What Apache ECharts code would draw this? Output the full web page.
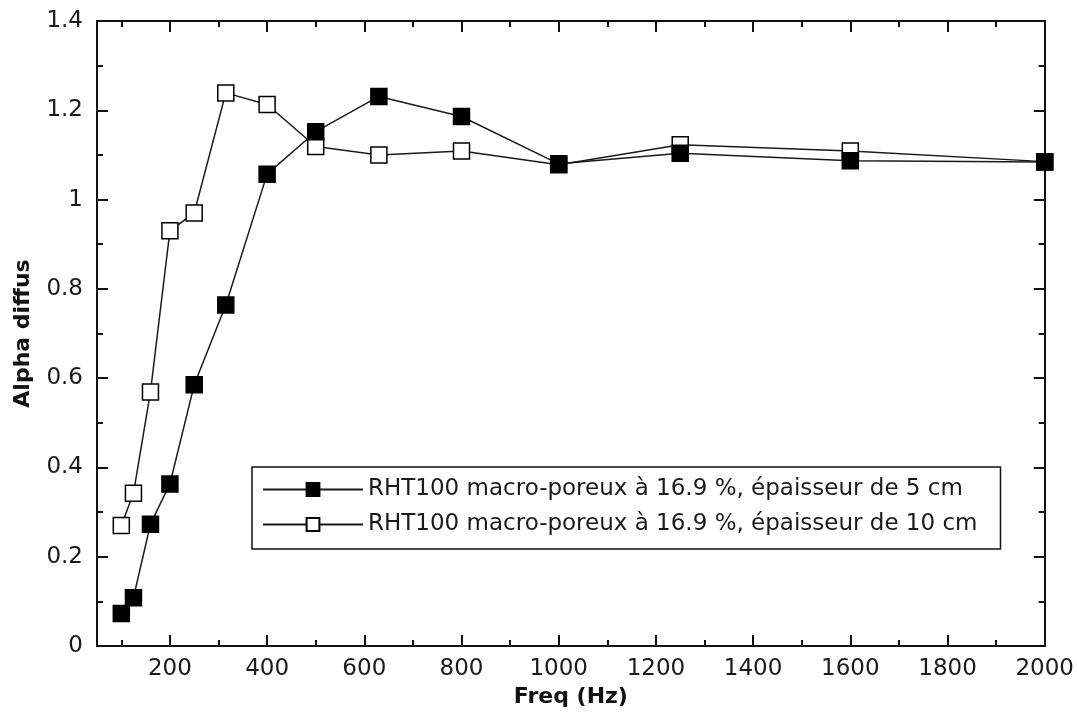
<!DOCTYPE html>
<html>
<head>
<meta charset="utf-8">
<title>Alpha diffus - RHT100</title>
<script src="https://cdn.jsdelivr.net/npm/echarts@6/dist/echarts.min.js"></script>
<style>
  html, body { margin: 0; padding: 0; background: #fff; }
  #chart { width: 1077px; height: 713px; }
</style>
</head>
<body>
<div id="chart"></div>
<script>
// Third-octave band centre frequencies (Hz)
const freqs = [100, 125, 160, 200, 250, 315, 400, 500, 630, 800, 1000, 1250, 1600, 2000];

// Diffuse-field absorption coefficient, 5 cm thick sample
const alpha5cm = [0.073, 0.108, 0.273, 0.363, 0.585, 0.764, 1.057, 1.152, 1.231, 1.186, 1.080, 1.104, 1.087, 1.084];

// Diffuse-field absorption coefficient, 10 cm thick sample
const alpha10cm = [0.270, 0.342, 0.569, 0.930, 0.970, 1.239, 1.213, 1.119, 1.100, 1.109, 1.078, 1.123, 1.109, 1.085];

const seriesNames = [
  'RHT100 macro-poreux à 16.9 %, épaisseur de 5 cm',
  'RHT100 macro-poreux à 16.9 %, épaisseur de 10 cm'
];

// Frequency axis tick positions
const xMajorTicks = [200, 400, 600, 800, 1000, 1200, 1400, 1600, 1800, 2000];
const xMinorTicks = [100, 300, 500, 700, 900, 1100, 1300, 1500, 1700, 1900];

const FONT = "'DejaVu Sans', sans-serif";
const INK = '#111';
const TEXT = '#1a1a1a';

function pairs(xs, ys) { return xs.map((x, i) => [x, ys[i]]); }

// Frame axis on the x side: ticks pointing inward, optionally labelled
function xFrame(position, ticks, len, labelled) {
  return {
    type: 'value', position, min: 50, max: 2000,
    axisLine: { show: true, onZero: false, lineStyle: { color: INK, width: 2 } },
    axisTick: { show: true, inside: true, length: len, customValues: ticks, lineStyle: { color: INK, width: 2 } },
    axisLabel: labelled
      ? { show: true, customValues: ticks, margin: 12, fontFamily: FONT, fontSize: 23, color: TEXT,
          formatter: v => String(v) }
      : { show: false },
    splitLine: { show: false }
  };
}

// Frame axis on the y side, with minor ticks every 0.1
function yFrame(position, labelled) {
  return {
    type: 'value', position, min: 0, max: 1.4, interval: 0.2,
    axisLine: { show: true, onZero: false, lineStyle: { color: INK, width: 2 } },
    axisTick: { show: true, inside: true, length: 11, lineStyle: { color: INK, width: 2 } },
    minorTick: { show: true, splitNumber: 2, length: 6, lineStyle: { color: INK, width: 2 } },
    axisLabel: labelled
      ? { show: true, margin: 14, fontFamily: FONT, fontSize: 23, color: TEXT,
          formatter: v => String(+v.toFixed(1)) }
      : { show: false },
    splitLine: { show: false },
    minorSplitLine: { show: false }
  };
}

const titleStyle = { fontFamily: FONT, fontSize: 22, fontWeight: 'bold', color: INK };

const bottomMajor = xFrame('bottom', xMajorTicks, 11, true);
bottomMajor.name = 'Freq (Hz)';
bottomMajor.nameLocation = 'middle';
bottomMajor.nameGap = 34;
bottomMajor.nameTextStyle = titleStyle;

const leftAxis = yFrame('left', true);
leftAxis.name = 'Alpha diffus';
leftAxis.nameLocation = 'middle';
leftAxis.nameGap = 63;
leftAxis.nameTextStyle = titleStyle;

const lineStyle = { color: '#1a1a1a', width: 1.5 };

const option = {
  backgroundColor: '#fff',
  animation: false,
  grid: { left: 97, top: 21, right: 30, bottom: 67, containLabel: false },
  xAxis: [
    bottomMajor,
    xFrame('bottom', xMinorTicks, 6, false),
    xFrame('top', xMajorTicks, 11, false),
    xFrame('top', xMinorTicks, 6, false)
  ],
  yAxis: [leftAxis, yFrame('right', false)],
  legend: {
    orient: 'vertical',
    left: 252, top: 467,
    padding: [11, 23, 13, 10],
    itemGap: 12,
    itemWidth: 100,
    itemHeight: 16,
    borderColor: INK,
    borderWidth: 1.5,
    borderRadius: 0,
    backgroundColor: '#fff',
    textStyle: { fontFamily: FONT, fontSize: 23, color: TEXT },
    data: seriesNames
  },
  series: [
    {
      name: seriesNames[0], type: 'line', xAxisIndex: 0, yAxisIndex: 0,
      data: pairs(freqs, alpha5cm),
      symbol: 'rect', symbolSize: 16,
      itemStyle: { color: '#000', borderColor: '#000', borderWidth: 1.5 },
      lineStyle, z: 3
    },
    {
      name: seriesNames[1], type: 'line', xAxisIndex: 0, yAxisIndex: 0,
      data: pairs(freqs, alpha10cm),
      symbol: 'rect', symbolSize: 16,
      itemStyle: { color: '#fff', borderColor: '#000', borderWidth: 1.5 },
      lineStyle, z: 2
    }
  ]
};

const chart = echarts.init(document.getElementById('chart'), null, { renderer: 'canvas' });
chart.setOption(option);
</script>
</body>
</html>
